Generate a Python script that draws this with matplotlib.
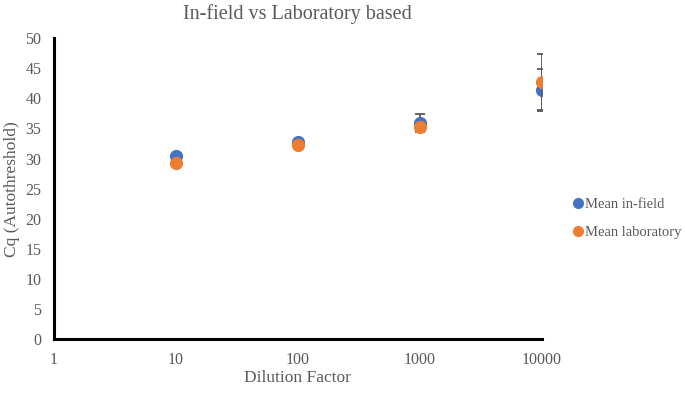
import numpy as np
import matplotlib.pyplot as plt
from matplotlib.lines import Line2D

dilution = [10, 100, 1000, 10000]
mean_infield = [30.4, 32.7, 35.9, 41.4]
err_infield = [0.0, 0.0, 1.5, 3.5]
mean_lab = [29.2, 32.2, 35.2, 42.7]
err_lab = [0.0, 0.0, 0.0, 4.6]

plt.rcParams['font.family'] = ['Liberation Serif', 'DejaVu Serif']
grey = "#595959"
blue = "#4472C4"
orange = "#ED7D31"

fig = plt.figure(figsize=(6.85, 3.93), dpi=100)
ax = fig.add_axes([0.0788, 0.137, 0.712, 0.766])

ax.errorbar(dilution, mean_infield, yerr=err_infield, fmt="o", color=blue,
            ecolor=grey, elinewidth=1.3, capsize=3.5, capthick=1.3,
            markersize=8.5, zorder=3)
ax.errorbar(dilution, mean_lab, yerr=err_lab, fmt="o", color=orange,
            ecolor=grey, elinewidth=1.3, capsize=3.5, capthick=1.3,
            markersize=8.5, zorder=4)

ax.set_xscale("log")
ax.set_xlim(1, 10000)
ax.set_ylim(0, 50)
ax.set_yticks(np.arange(0, 55, 5))
ax.set_xticks([1, 10, 100, 1000, 10000])
ax.set_xticklabels(["1", "10", "100", "1000", "10000"])
ax.minorticks_off()
ax.tick_params(length=0, labelsize=11.5, colors=grey, pad=9)

for s in ["top", "right"]:
    ax.spines[s].set_visible(False)
for s in ["left", "bottom"]:
    ax.spines[s].set_linewidth(2.2)
    ax.spines[s].set_color("black")

ax.set_title("In-field vs Laboratory based", fontsize=14.5, color=grey, pad=14)
ax.set_xlabel("Dilution Factor", fontsize=12.5, color=grey, labelpad=2)
ax.set_ylabel("Cq (Autothreshold)", fontsize=12.5, color=grey, labelpad=4)

handles = [Line2D([], [], ls="none", marker="o", color=blue, markersize=7),
           Line2D([], [], ls="none", marker="o", color=orange, markersize=7)]
leg = ax.legend(handles, ["Mean in-field", "Mean laboratory"],
                loc="center left", bbox_to_anchor=(1.035, 0.4), frameon=False,
                fontsize=10.5, handlelength=0.8, handletextpad=0.1,
                labelspacing=1.0)
for t in leg.get_texts():
    t.set_color(grey)

fig.savefig("out.png", dpi=100)
